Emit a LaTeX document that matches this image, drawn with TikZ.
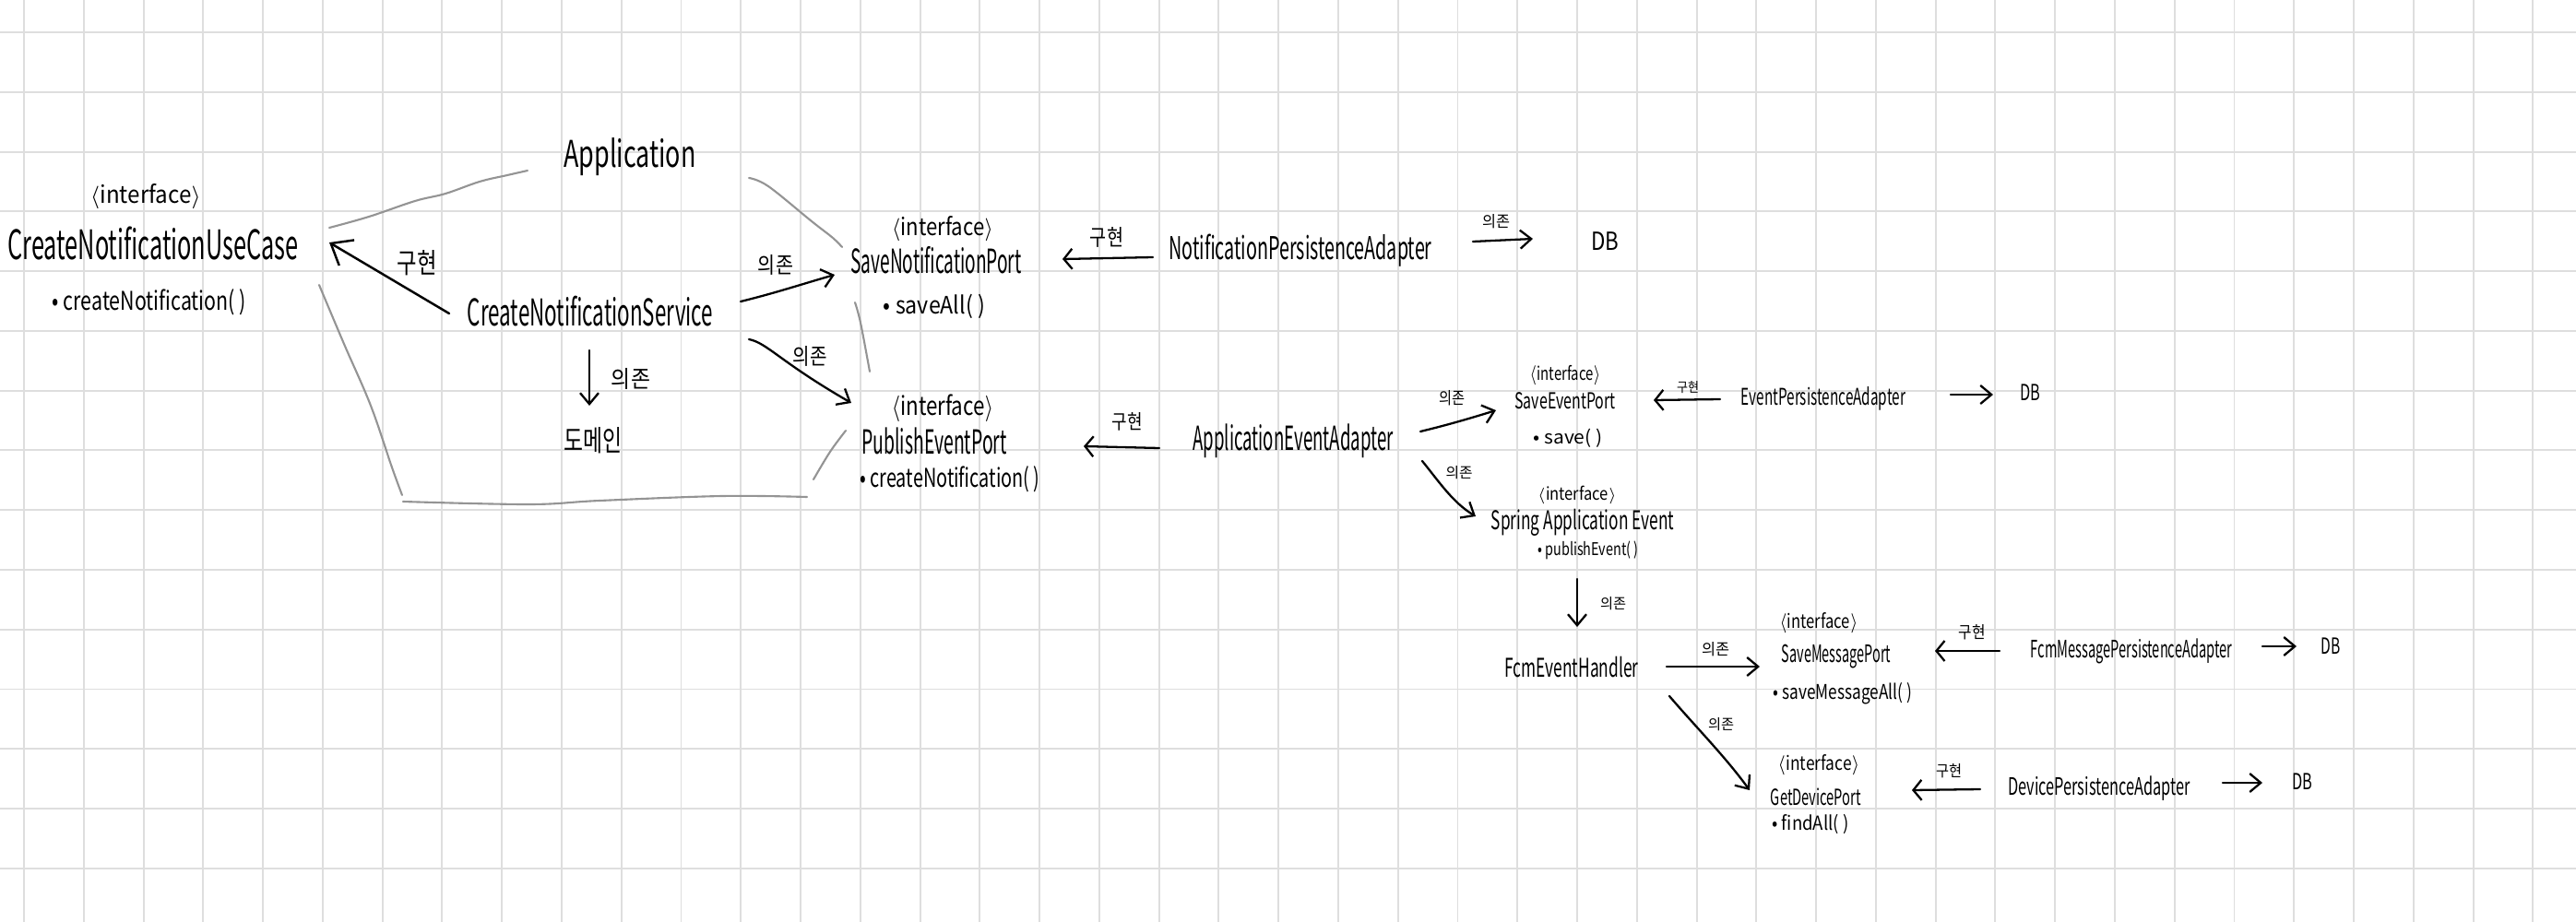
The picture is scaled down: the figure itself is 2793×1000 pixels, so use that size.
\documentclass[tikz,border=0pt]{standalone}
\usepackage{graphicx}
\usepackage{fontspec}
\setmainfont{Noto Sans CJK KR}
\usetikzlibrary{arrows.meta}
\newcommand{\hw}[3]{\resizebox{#2cm}{\height}{\fontsize{#1cm}{#1cm}\selectfont #3}}
\newcommand{\kl}[3]{\resizebox{#1cm}{#2cm}{#3}}
\newcommand{\itf}{\ensuremath{\langle}interface\ensuremath{\rangle}}
\tikzset{
  gridline/.style={draw=black!13, line width=0.55pt},
  bnd/.style={draw=black!42, line width=0.6pt, line cap=round},
  arr/.style={draw=black, line width=0.65pt, line cap=round,
    -{Straight Barb[length=0.12cm, width=0.2cm, line width=0.65pt]}},
  bigarr/.style={draw=black, line width=0.7pt, line cap=round,
    -{Straight Barb[length=0.2cm, width=0.32cm, line width=0.7pt]}},
  implarr/.style={draw=black, line width=0.65pt, line cap=round,
    -{Straight Barb[length=0.09cm, width=0.22cm, line width=0.65pt]}},
  txt/.style={inner sep=0pt, outer sep=0pt, text=black},
}
\begin{document}
\begin{tikzpicture}[x=0.01cm, y=-0.01cm]
\useasboundingbox (0,0) rectangle (2793,1000);
\fill[white] (0,0) rectangle (2793,1000);
% grid
\foreach \i in {0,...,42} \draw[gridline] ({26+64.77*\i},0) -- ({26+64.77*\i},1000);
\foreach \j in {0,...,14} \draw[gridline] (0,{35+64.77*\j}) -- (2793,{35+64.77*\j});

% ---------- left part ----------
\node[txt] (cnucI) at (158,213) {\hw{0.26}{1.20}{\itf}};
\node[txt] (cnuc)  at (166,264) {\hw{0.44}{3.15}{CreateNotificationUseCase}};
\node[txt] (cnucM) at (162,328) {\hw{0.28}{2.10}{• createNotification( )}};
\node[txt] (app)   at (683,170) {\hw{0.40}{1.43}{Application}};
\node[txt] (cns)   at (640,338) {\hw{0.40}{2.66}{CreateNotificationService}};
\node[txt] (dom)   at (643,478) {\kl{0.63}{0.26}{도메인}};

% application boundary
\draw[bnd] plot[smooth, tension=0.6] coordinates {(357,247) (400,235) (450,218) (483,210) (520,197) (550,190) (572,185)};
\draw[bnd] plot[smooth, tension=0.6] coordinates {(812,193) (833,202) (880,240) (903,258) (913,268)};
\draw[bnd] plot[smooth, tension=0.6] coordinates {(927,328) (933,350) (943,403)};
\draw[bnd] plot[smooth, tension=0.6] coordinates {(917,467) (900,490) (882,520)};
\draw[bnd] plot[smooth, tension=0.6] coordinates {(437,544) (574,547) (650,543) (783,538) (875,539)};
\draw[bnd] plot[smooth, tension=0.6] coordinates {(346,309) (373,373) (402,440) (425,507) (436,537)};

% ports
\node[txt] (snpI) at (1022,248) {\hw{0.26}{1.10}{\itf}};
\node[txt] (snp)  at (1015,282) {\hw{0.36}{1.85}{SaveNotificationPort}};
\node[txt] (snpM) at (1013,332) {\hw{0.26}{1.10}{• saveAll( )}};
\node[txt] (pepI) at (1022,443) {\hw{0.28}{1.10}{\itf}};
\node[txt] (pep)  at (1013,478) {\hw{0.36}{1.57}{PublishEventPort}};
\node[txt] (pepM) at (1030,520) {\hw{0.28}{1.95}{• createNotification( )}};

% adapters
\node[txt] (npa) at (1410,272) {\hw{0.34}{2.85}{NotificationPersistenceAdapter}};
\node[txt] (db1) at (1740,262) {\hw{0.27}{0.30}{DB}};
\node[txt] (aea) at (1402,478) {\hw{0.36}{2.17}{ApplicationEventAdapter}};

% event ports
\node[txt] (sepI) at (1697,407) {\hw{0.20}{0.77}{\itf}};
\node[txt] (sep)  at (1697,435) {\hw{0.24}{1.09}{SaveEventPort}};
\node[txt] (sepM) at (1700,475) {\hw{0.20}{0.75}{• save( )}};
\node[txt] (epa)  at (1977,432) {\hw{0.25}{1.78}{EventPersistenceAdapter}};
\node[txt] (db2)  at (2201,426) {\hw{0.24}{0.22}{DB}};

\node[txt] (saeI) at (1710,537) {\hw{0.19}{0.86}{\itf}};
\node[txt] (sae)  at (1716,567) {\hw{0.28}{1.98}{Spring Application Event}};
\node[txt] (saeM) at (1722,597) {\hw{0.19}{1.09}{• publishEvent( )}};

\node[txt] (feh)  at (1704,724) {\hw{0.28}{1.45}{FcmEventHandler}};
\node[txt] (smpI) at (1972,676) {\hw{0.21}{0.85}{\itf}};
\node[txt] (smp)  at (1991,712) {\hw{0.26}{1.18}{SaveMessagePort}};
\node[txt] (smpM) at (1998,752) {\hw{0.22}{1.50}{• saveMessageAll( )}};
\node[txt] (fmpa) at (2311,706) {\hw{0.26}{2.18}{FcmMessagePersistenceAdapter}};
\node[txt] (db3)  at (2527,701) {\hw{0.24}{0.21}{DB}};

\node[txt] (gdpI) at (1972,830) {\hw{0.21}{0.89}{\itf}};
\node[txt] (gdp)  at (1969,864) {\hw{0.24}{0.98}{GetDevicePort}};
\node[txt] (gdpM) at (1963,894) {\hw{0.21}{0.83}{• findAll( )}};
\node[txt] (dpa)  at (2276,855) {\hw{0.26}{1.97}{DevicePersistenceAdapter}};
\node[txt] (db4)  at (2496,848) {\hw{0.24}{0.22}{DB}};

% ---------- connector end points ----------
\coordinate (a1s) at (487,340);  \coordinate (a1e) at (357,263);
\coordinate (a2s) at (803,327);  \coordinate (a2e) at (905,298);
\coordinate (a3s) at (812,368);  \coordinate (a3e) at (923,437);
\coordinate (a4s) at (639,380);  \coordinate (a4e) at (639,440);
\coordinate (a5s) at (1250,279); \coordinate (a5e) at (1152,281);
\coordinate (a6s) at (1597,262); \coordinate (a6e) at (1662,259);
\coordinate (a7s) at (1257,486); \coordinate (a7e) at (1175,484);
\coordinate (a8s) at (1540,468); \coordinate (a8e) at (1622,445);
\coordinate (a9s) at (1542,500); \coordinate (a9e) at (1600,560);
\coordinate (a10s) at (1865,433); \coordinate (a10e) at (1793,434);
\coordinate (a11s) at (2115,428); \coordinate (a11e) at (2161,428);
\coordinate (a12s) at (1710,628); \coordinate (a12e) at (1710,680);
\coordinate (a13s) at (1807,723); \coordinate (a13e) at (1908,723);
\coordinate (a14s) at (1810,755); \coordinate (a14e) at (1897,857);
\coordinate (a15s) at (2168,706); \coordinate (a15e) at (2098,706);
\coordinate (a16s) at (2453,701); \coordinate (a16e) at (2490,701);
\coordinate (a17s) at (2147,856); \coordinate (a17e) at (2073,857);
\coordinate (a18s) at (2410,849); \coordinate (a18e) at (2453,849);

% ---------- connectors ----------
\draw[bigarr] (a1s) -- (a1e);
\draw[arr] (a2s) .. controls (840,318) and (870,308) .. (a2e);
\draw[arr] (a3s) .. controls (832,372) and (845,392) .. (a3e);
\draw[arr] (a4s) -- (a4e);
\draw[implarr] (a5s) -- (a5e);
\draw[arr] (a6s) -- (a6e);
\draw[implarr] (a7s) -- (a7e);
\draw[arr] (a8s) .. controls (1565,462) and (1590,455) .. (a8e);
\draw[arr] (a9s) .. controls (1560,522) and (1575,545) .. (a9e);
\draw[implarr] (a10s) -- (a10e);
\draw[arr] (a11s) -- (a11e);
\draw[arr] (a12s) -- (a12e);
\draw[arr] (a13s) -- (a13e);
\draw[arr] (a14s) .. controls (1840,790) and (1870,820) .. (a14e);
\draw[implarr] (a15s) -- (a15e);
\draw[arr] (a16s) -- (a16e);
\draw[implarr] (a17s) -- (a17e);
\draw[arr] (a18s) -- (a18e);

% ---------- connector labels ----------
\node[txt] (l1)  at (452,285)  {\kl{0.43}{0.25}{구현}};
\node[txt] (l2)  at (841,287)  {\kl{0.38}{0.20}{의존}};
\node[txt] (l3)  at (878,386)  {\kl{0.37}{0.20}{의존}};
\node[txt] (l4)  at (684,411)  {\kl{0.42}{0.21}{의존}};
\node[txt] (l5)  at (1200,257) {\kl{0.36}{0.20}{구현}};
\node[txt] (l6)  at (1222,457) {\kl{0.33}{0.18}{구현}};
\node[txt] (l7)  at (1622,240) {\kl{0.30}{0.14}{의존}};
\node[txt] (l8)  at (1574,432) {\kl{0.28}{0.15}{의존}};
\node[txt] (l9)  at (1830,420) {\kl{0.24}{0.12}{구현}};
\node[txt] (l10) at (1582,513) {\kl{0.29}{0.13}{의존}};
\node[txt] (l11) at (1749,655) {\kl{0.28}{0.13}{의존}};
\node[txt] (l12) at (1860,704) {\kl{0.30}{0.14}{의존}};
\node[txt] (l13) at (1866,786) {\kl{0.28}{0.13}{의존}};
\node[txt] (l14) at (2138,686) {\kl{0.29}{0.15}{구현}};
\node[txt] (l15) at (2113,836) {\kl{0.28}{0.14}{구현}};
\end{tikzpicture}
\end{document}
